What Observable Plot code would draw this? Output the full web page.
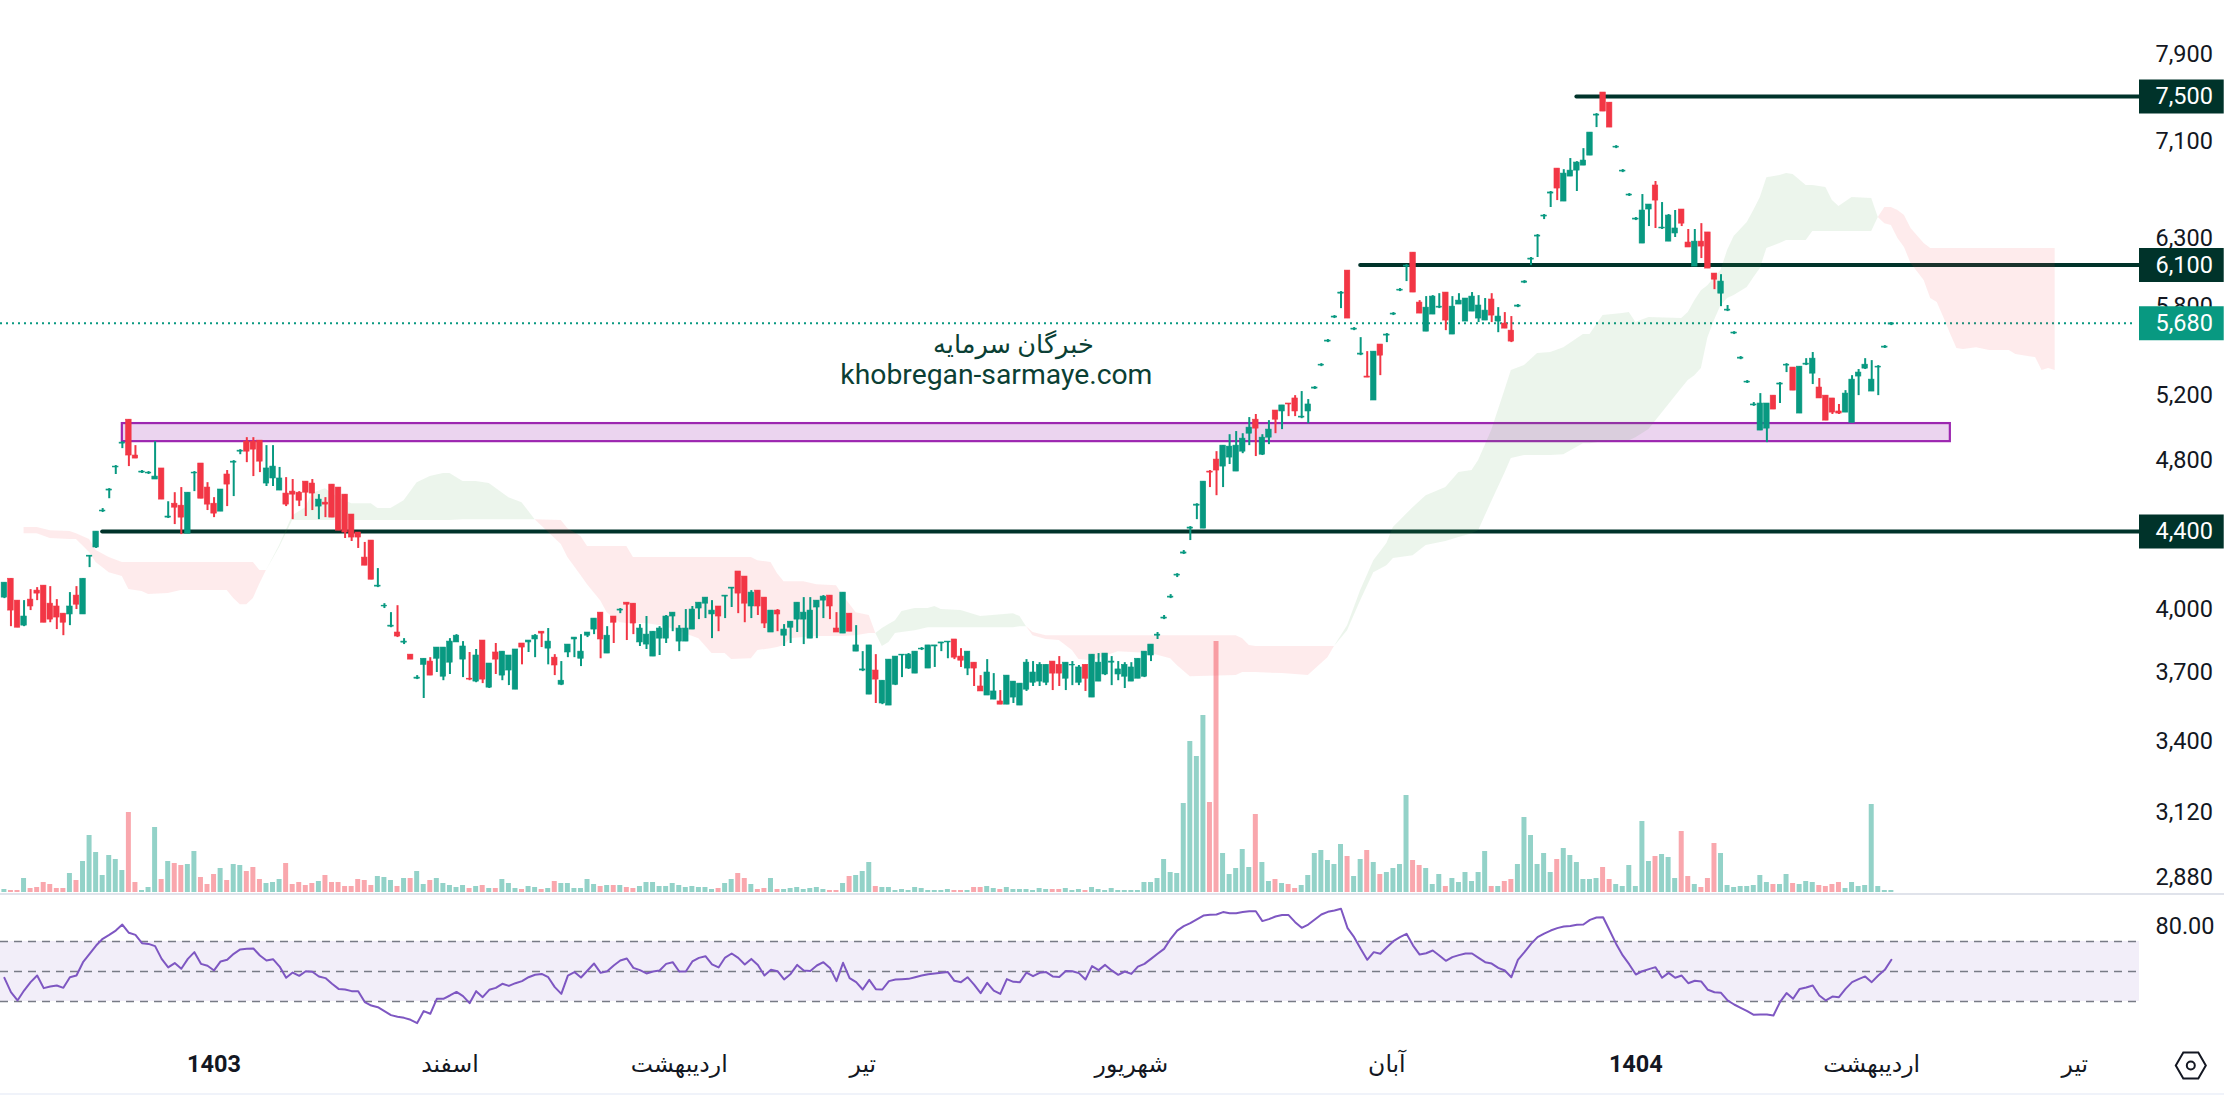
<!DOCTYPE html>
<html lang="fa">
<head>
<meta charset="utf-8">
<title>Chart</title>
<script src="https://cdn.jsdelivr.net/npm/d3@7"></script>
<script src="https://cdn.jsdelivr.net/npm/@observablehq/plot@0.6"></script>
<style>
html,body{margin:0;padding:0;background:#fff}
#root{position:relative;width:2224px;height:1096px;overflow:hidden;background:#fff}
#root>svg,#root>div{position:absolute;left:0}
#sep1{top:893px;width:2224px;height:2px;background:#e0e3eb}
#sep2{top:1093px;width:2224px;height:2px;background:#f0f3fa}
</style>
</head>
<body>
<div id="root"><div id="sep1"></div><div id="sep2"></div></div>
<script>
const opens=[4058,4153,4043,3921,4048,4093,4118,4028,4014,3979,
3975,4068,3975,4267,4315,4510,4627,4760,4901,5047,
4830,4730,4725,4690,4754,4476,4553,4542,4389,4725,
4783,4644,4553,4509,4719,4788,4853,4913,4913,4919,
4667,4696,4627,4610,4621,4615,4678,4667,4537,4559,
4661,4644,4604,4493,4395,4262,4352,4113,4014,3916,
3888,3840,3784,3674,3737,3752,3765,3683,3747,3841,
3761,3674,3661,3850,3634,3794,3688,3711,3625,3836,
3841,3855,3892,3812,3770,3647,3794,3855,3765,3873,
3902,3984,3789,3965,3994,4033,4028,3841,3831,3775,
3859,3859,3965,3845,3845,3902,4004,4028,3975,4014,
4063,4103,4190,4164,4014,4093,4058,3888,3994,3873,
3911,3950,3950,3859,4009,4043,4068,3907,3883,3979,
3798,3711,3603,3711,3564,3555,3647,3780,3720,3697,
3808,3720,3822,3836,3841,3855,3775,3720,3747,3639,
3599,3581,3573,3559,3590,3555,3625,3656,3661,3656,
3752,3737,3674,3734,3656,3737,3590,3661,3693,3747,
3693,3683,3661,3674,3683,3780,3873,3955,4058,4169,
4283,4416,4542,4416,4736,4806,4765,4818,4736,4853,
4961,5047,4835,4937,5104,5098,5148,5180,5060,5098,
5243,5393,5554,5720,5890,6059,5636,5466,5321,5167,
5534,5595,5741,5912,6089,6194,5826,5622,5741,5790,
5898,5602,5812,5692,5762,5713,5699,5848,5692,5678,
5629,5797,5970,6141,6317,6474,6659,6866,6594,6799,
6849,6891,6976,7327,7537,7444,7045,6841,6643,6450,
6263,6530,6725,6380,6278,6341,6530,6271,6089,6278,
6349,6037,5890,5769,5609,5439,5282,5136,4980,4992,
5198,5269,5393,5380,5085,5399,5340,5250,5198,5180,
5098,5091,5028,5321,5373,5224,5380,5513,5671];
const highs=[4133,4153,4043,4043,4098,4108,4118,4113,4048,3979,
4083,4113,4153,4272,4400,4526,4638,4771,4913,5047,
4889,4742,4736,4913,4754,4564,4615,4644,4615,4736,
4783,4672,4587,4633,4742,4800,4865,4937,4937,4919,
4889,4889,4760,4701,4690,4621,4678,4690,4604,4587,
4661,4644,4604,4493,4395,4342,4352,4205,4028,3984,
4018,3859,3784,3688,3765,3770,3817,3817,3859,3878,
3845,3794,3808,3850,3743,3836,3798,3780,3808,3836,
3850,3878,3892,3907,3784,3752,3831,3864,3878,3888,
3955,3984,3916,3965,4004,4033,4028,3926,3965,3892,
3916,3970,3984,3921,3999,4014,4033,4058,4043,4014,
4068,4108,4190,4164,4093,4093,4058,3994,3999,3926,
3940,4033,4058,4058,4043,4068,4068,3984,4083,3979,
3921,3798,3827,3784,3665,3761,3775,3784,3789,3798,
3817,3827,3827,3841,3845,3855,3812,3798,3747,3688,
3761,3697,3621,3688,3661,3652,3761,3752,3747,3737,
3752,3775,3747,3752,3734,3737,3784,3789,3789,3775,
3752,3747,3747,3765,3798,3831,3888,3970,4073,4179,
4299,4427,4553,4678,4742,4853,4889,4955,4974,4961,
5060,5079,4955,5041,5104,5136,5148,5198,5224,5173,
5256,5406,5568,5734,5905,6059,5650,5581,5486,5486,
5534,5609,5755,5927,6104,6194,5840,5869,5876,5890,
5898,5869,5890,5855,5898,5876,5855,5890,5790,5755,
5727,5812,5985,6157,6333,6490,6676,6866,6857,6951,
6925,7036,7176,7345,7537,7444,7062,6858,6659,6466,
6651,6570,6758,6586,6490,6522,6530,6372,6372,6418,
6349,6037,6029,5805,5622,5453,5295,5154,5211,5148,
5198,5282,5406,5380,5386,5439,5480,5308,5198,5180,
5142,5230,5327,5367,5439,5426,5393,5527,5685];
const lows=[4053,3916,3911,3916,3994,4043,3935,3935,3902,3873,
3921,3999,3975,4210,4310,4504,4581,4719,4871,4765,
4812,4725,4719,4690,4576,4471,4438,4384,4389,4621,
4581,4515,4476,4509,4537,4593,4835,4788,4707,4730,
4650,4650,4627,4537,4465,4537,4482,4515,4465,4476,
4476,4405,4363,4347,4310,4220,4148,4108,4004,3911,
3864,3831,3761,3670,3586,3688,3702,3665,3693,3841,
3679,3665,3656,3652,3630,3693,3665,3643,3625,3737,
3794,3770,3817,3737,3688,3643,3770,3770,3729,3864,
3878,3765,3789,3836,3979,3850,3878,3822,3808,3775,
3780,3836,3892,3798,3845,3902,3950,3955,3859,3892,
3955,4009,3979,3935,3955,3970,3907,3888,3892,3822,
3836,3888,3831,3859,3859,3955,3950,3888,3883,3892,
3798,3706,3603,3564,3559,3555,3643,3679,3716,3697,
3803,3720,3725,3798,3765,3761,3725,3688,3639,3617,
3599,3581,3559,3559,3564,3555,3617,3639,3639,3643,
3621,3639,3621,3643,3643,3617,3590,3661,3688,3643,
3665,3630,3661,3674,3679,3752,3855,3950,4053,4159,
4278,4352,4465,4416,4644,4598,4644,4777,4736,4841,
4889,4824,4830,4895,4961,4986,5066,5066,5053,5022,
5237,5386,5547,5713,5783,5713,5629,5459,5314,5167,
5327,5547,5734,5905,5978,5898,5748,5622,5741,5783,
5629,5602,5812,5692,5762,5685,5699,5685,5615,5643,
5547,5790,5963,6096,6157,6450,6546,6602,6594,6799,
6676,6891,6976,7220,7363,7220,7036,6832,6635,6442,
6263,6395,6380,6372,6278,6310,6395,6233,6089,6149,
6074,5919,5797,5762,5602,5432,5276,5130,4980,4907,
5110,5148,5347,5230,5085,5393,5269,5180,5041,5079,
5079,5091,5028,5198,5367,5224,5198,5507,5664];
const closes=[4133,3994,3911,3965,4014,4078,3935,3950,3960,3935,
4014,4023,4153,4272,4400,4515,4633,4765,4907,4830,
4812,4736,4730,4707,4576,4482,4531,4476,4615,4730,
4581,4548,4498,4633,4661,4794,4859,4853,4865,4794,
4754,4765,4696,4548,4604,4570,4615,4610,4576,4548,
4476,4405,4395,4368,4368,4220,4148,4118,4018,3921,
3869,3845,3761,3679,3765,3688,3817,3817,3845,3873,
3822,3670,3780,3670,3743,3761,3798,3780,3808,3817,
3850,3873,3883,3845,3734,3665,3831,3864,3798,3888,
3955,3855,3873,3935,3999,4023,3931,3907,3878,3892,
3907,3965,3984,3907,3907,3999,4033,4058,3994,3965,
4068,4108,4078,4028,4083,4014,3931,3994,3975,3902,
3940,4033,3984,3994,4043,4063,4014,3888,4083,3892,
3827,3716,3827,3670,3665,3761,3775,3784,3784,3798,
3812,3827,3827,3841,3845,3770,3756,3798,3720,3617,
3702,3617,3559,3688,3661,3652,3747,3702,3737,3737,
3697,3697,3747,3737,3725,3674,3784,3747,3789,3752,
3716,3737,3725,3765,3798,3831,3878,3960,4063,4174,
4289,4422,4548,4678,4730,4742,4889,4883,4889,4931,
4998,4992,4937,4986,5047,5136,5142,5098,5066,5142,
5250,5399,5561,5727,5898,5713,5643,5473,5314,5486,
5459,5602,5748,5919,6096,5898,5748,5790,5869,5797,
5699,5797,5840,5855,5869,5805,5769,5734,5727,5643,
5554,5805,5978,6149,6325,6482,6668,6700,6824,6849,
6917,6934,7176,7336,7363,7220,7053,6849,6651,6458,
6522,6570,6602,6387,6482,6380,6418,6233,6278,6240,
6074,5992,5978,5776,5616,5446,5288,5142,5148,5148,
5110,5276,5399,5230,5386,5406,5439,5180,5041,5091,
5085,5211,5301,5347,5399,5301,5386,5520,5680];
const volumes=[3,2,2,14,4,5,10,8,4,4,
19,12,31,57,40,17,37,33,22,80,
10,2,5,65,13,31,29,27,28,41,
15,8,18,24,12,28,27,21,25,13,
9,10,13,29,8,10,7,9,11,17,
10,10,6,6,13,12,7,16,15,12,
6,14,14,21,8,12,14,9,7,5,
7,4,6,7,4,4,13,9,4,3,
6,5,3,4,11,9,9,4,4,13,
8,6,7,7,7,5,4,6,10,10,
6,6,9,7,5,6,5,5,3,4,
9,13,19,14,8,3,4,14,3,3,
4,5,3,4,5,3,2,2,9,16,
17,21,30,6,5,5,2,3,2,5,
4,2,2,2,3,2,2,2,5,5,
6,4,3,5,3,3,3,2,4,3,
3,3,4,2,3,2,5,3,2,4,
2,2,2,2,10,10,14,33,20,19,
89,151,136,177,90,251,39,18,24,43,
25,78,30,11,13,9,8,4,7,17,
39,42,32,28,48,36,16,33,42,30,
18,20,24,28,97,32,27,24,8,18,
6,14,10,20,11,20,41,6,6,11,
13,28,75,57,28,39,20,33,44,37,
30,13,13,14,25,13,8,6,27,6,
71,31,36,38,35,14,61,16,8,5,
14,49,39,7,5,6,6,7,17,10,
8,8,18,9,8,11,10,7,6,8,
10,4,10,6,7,88,6,2,2];
const rsi=[45.8,36.2,30.7,37.3,42.9,47.3,38.9,40,40.7,39.1,
46.2,47.3,56.2,61.8,67.3,71.8,74.4,77.3,81.3,75.8,
74.4,68.9,68.4,66.9,58.4,52.7,55.6,51.8,58.4,62.9,
55.1,53.8,50.7,56.7,57.8,61.8,64.7,65.1,65.3,60.7,
57.3,58.2,53.3,45.8,49.3,47.1,50.2,49.8,46.7,45.6,
41.8,38.4,38,36.9,36.9,29.6,27.3,26.2,23.6,20.9,
19.8,19.1,17.8,15.6,23.6,21.8,31.8,31.8,34,36.4,
33.6,28.9,36.9,32.9,37.8,39.1,41.8,40.4,42.2,43.6,
46.2,47.8,48.4,46.2,39.6,35.1,47.3,49.6,46,50.7,
55.3,49.1,50.2,54,57.3,58.7,52.4,50.9,48.7,50,
50.7,55.1,56.2,50,50,56.7,59.1,60.2,54.7,52.7,
59.3,62,59.1,54.7,58.4,54.4,47.3,51.1,50.2,44.7,
48.4,54.4,50.7,50.4,54,56.2,52.4,43.6,55.8,45.6,
42.9,38,44.4,38.2,38,43.6,44.7,44.9,45.1,46.2,
47.3,48.2,48.7,49.1,49.6,43.8,42.9,46.2,41.3,35.6,
42.4,37.3,35.1,44.9,43.1,42.9,49.3,46.9,49.1,49.6,
46.7,46.4,50.4,50.2,48.9,44.7,53.6,50.9,
54.4,50.7,47.8,50,48.4,53.3,55.1,58.4,61.8,65.1,
71.8,77.3,80.2,82.2,84.7,87.3,87.8,88,89.6,88.9,
88.9,89.6,90.2,90.2,83.6,84.9,86.7,87.6,87.6,82.9,
79.1,81.3,84.7,88,89.8,90.7,91.8,78.9,72.9,65.1,
57.8,62.9,61.8,66.2,70.2,72.9,75.1,67.3,61.3,62.2,
64,60.7,57.1,59.6,60.9,62,62,59.1,56.2,55.3,
52.4,50.7,46.2,57.8,62.9,68.4,72.9,75.3,77.3,78.9,
80,80.4,81.1,81.3,84.4,86,86.2,77.3,68.4,60.7,
54.7,48,50.2,51.6,52.9,45.8,49.1,45.8,47.3,42.2,
43.8,43.3,37.8,36.2,35.8,30.7,28,25.8,23.6,21.1,
21.3,21.3,20.7,29.6,35.6,31.8,38.4,39.3,40.7,34,
30.7,33.3,32.9,38.4,42.9,44.9,46.7,42.9,47.3,51.1,57.8];
const spanX=[3,5,7,10,11,13,14,16,18,19,21,22,25,27,34,35,36,37,38,39,40,
42,44,46,47,49,51,53,56,57,59,61,63,65,67,68,70,72,74,77,79,81,
85,86,88,89,91,92,94,95,96,98,101,106,108,110,111,114,115,117,118,119,120,122,124,127,128,130,132,133,
134,135,136,137,139,141,142,143,146,149,154,155,156,
157,159,161,163,164,166,170,175,178,179,181,188,189,190,191,195,199,202,203,
205,207,209,211,212,215,217,220,222,224,225,227,229,230,232,234,236,238,241,242,244,247,248,249,251,256,257,258,259,260,261,262,263,264,266,267,268,269,271,272,273,275,276,278,279,280,282,285,286,
287,288,289,290,291,293,294,295,296,297,298,299,301,303,306,307,310,311,312,313];
const spanA=[4389,4389,4363,4357,4357,4289,4236,4184,4164,4098,4088,4073,4078,4093,4093,4053,4023,4023,4053,4128,4195,
4326,4487,4531,4610,4638,4587,4553,4553,4526,4526,4570,4672,4707,4725,4725,4678,4678,4667,4587,4559,4465,
4331,4262,4169,4123,4043,3984,3935,3931,3931,3931,3916,3859,3789,3789,3761,3765,3803,3812,3817,3827,3859,3864,3869,3869,3869,3873,3883,3883,
3907,3926,3945,3989,4004,4004,4014,3999,3994,3965,3979,3965,3916,
3873,3855,3850,3803,3761,3756,3798,3789,3765,3734,3683,3688,3702,3702,3702,3697,3688,3770,3822,
3921,4093,4246,4336,4422,4531,4598,4644,4730,4742,4800,4980,5230,5360,5393,5473,5480,5513,5602,5602,5734,5748,5755,5685,5720,5713,5755,5840,5912,5948,6007,6059,6210,6318,6426,6522,6626,6790,6808,6824,6816,6725,6725,6708,6602,6554,6626,6618,6466,
6418,6403,6302,6233,6112,5985,5855,5826,5720,5609,5507,5500,5513,5493,5493,5466,5446,5360,5373,5360];
const spanB=[4422,4422,4405,4400,4389,4357,4299,4262,4236,4236,4236,4236,4236,4236,4236,4236,4236,4236,4236,4195,4195,
4315,4460,4460,4460,4460,4460,4460,4460,4460,4460,4460,4460,4460,4460,4460,4465,4465,4465,4465,4465,4465,
4460,4416,4373,4320,4320,4320,4320,4320,4262,4262,4262,4262,4262,4262,4262,4262,4246,4236,4179,4138,4138,4138,4123,4118,4068,3984,3970,3883,
3822,3841,3883,3888,3897,3911,3911,3911,3911,3911,3911,3916,3916,
3888,3873,3873,3873,3873,3873,3873,3873,3873,3873,3873,3873,3859,3827,3822,3822,3822,3822,3822,
3897,4043,4184,4220,4257,4272,4326,4347,4368,4389,4405,4564,4725,4812,4830,4830,4830,4835,4901,4901,4913,4919,4919,4937,4986,5243,5295,5327,5373,5581,5699,5805,5855,5877,5934,6007,6074,6226,6263,6286,6286,6286,6356,6356,6356,6356,6356,6356,6466,
6546,6546,6522,6482,6380,6263,6225,6225,6225,6225,6225,6225,6225,6225,6225,6225,6225,6225,6225,6225];
const priceTicks=[7900,7100,6300,5800,5200,4800,4000,3700,3400,3120,2880];
const levelPrices=[7500,6100,4400];
const levelStarts=[240,207,15];
const lastPrice=[5680];
const boxLow=4913, boxHigh=5023, boxStart=18, boxEnd=297;
const rsiBands=[30,50,70];
const rsiTicks=[80];
const monthTicks=[68,103,131,172,211,285,316];
const monthNames=["اسفند","اردیبهشت","تیر","شهریور","آبان","اردیبهشت","تیر"];
const yearTicks=[32,249];
const yearNames=["1403","1404"];
const watermarkFa=["خبرگان سرمایه"];
const watermarkEn=["khobregan-sarmaye.com"];

const GREEN="#089981",RED="#f23645",DARK="#00332a",INK="#131722",PURPLE="#9c27b0",RSI="#7e57c2";
const xDomain=[-0.595,325.87], xEdge=338.8;
const FONT='Roboto, "Noto Sans", "DejaVu Sans", sans-serif';

const candles=opens.map((o,i)=>({i,open:o,high:highs[i],low:lows[i],close:closes[i],vol:volumes[i],up:closes[i]>=o}));
const up=candles.filter(d=>d.up), down=candles.filter(d=>!d.up);

let seg=0; const cloud=[];
spanX.forEach((x,k)=>{
  const a=spanA[k],b=spanB[k];
  cloud.push({x,a,b,seg});
  if(a===b){seg++;cloud.push({x,a,b,seg});}
});
const segGreen=new Map();
for(const r of cloud) if(r.a!==r.b) segGreen.set(r.seg,r.a>r.b);
const greenCloud=cloud.filter(r=>segGreen.get(r.seg)===true);
const redCloud=cloud.filter(r=>segGreen.get(r.seg)===false);
const levels=levelPrices.map((p,k)=>({p,from:levelStarts[k]}));

const base={width:2224,marginTop:0,marginLeft:0,marginRight:85,style:{background:"transparent",fontFamily:FONT,overflow:"visible"}};
const candleMarks=(data,c)=>[
  Plot.ruleX(data,{x:"i",y1:"low",y2:"high",stroke:c,strokeWidth:2}),
  Plot.rect(data,{x1:d=>d.i-0.42,x2:d=>d.i+0.42,y1:"open",y2:"close",fill:c,stroke:c,strokeWidth:0.6})
];

const volumePlot=Plot.plot({...base,height:892,marginBottom:0,
  x:{domain:xDomain,axis:null},y:{domain:[0,892],axis:null},
  marks:[
    Plot.rect(up,{x1:d=>d.i-0.38,x2:d=>d.i+0.38,y1:0,y2:"vol",fill:GREEN,fillOpacity:0.44}),
    Plot.rect(down,{x1:d=>d.i-0.38,x2:d=>d.i+0.38,y1:0,y2:"vol",fill:RED,fillOpacity:0.44})
  ]});

const pricePlot=Plot.plot({...base,height:892,marginBottom:0,
  x:{domain:xDomain,axis:null},y:{type:"log",domain:[2827,8437],axis:null},
  marks:[
    Plot.axisY(priceTicks,{anchor:"right",tickSize:0,tickPadding:16,tickFormat:d3.format(","),fontSize:23.5,fill:INK,label:null}),
    Plot.ruleY(levels,{y:"p",x1:"from",x2:xDomain[1],stroke:DARK,strokeWidth:4,strokeLinecap:"round"}),
    Plot.ruleY(lastPrice,{x1:xDomain[0],x2:xDomain[1]-0.8,stroke:GREEN,strokeWidth:2,strokeDasharray:"2 4"}),
    Plot.rect([0],{x1:boxStart,x2:boxEnd,y1:boxLow,y2:boxHigh,fill:PURPLE,fillOpacity:0.2,stroke:PURPLE,strokeWidth:2.2}),
    Plot.areaY(redCloud,{x:"x",y1:"a",y2:"b",z:"seg",fill:RED,fillOpacity:0.1}),
    Plot.areaY(greenCloud,{x:"x",y1:"a",y2:"b",z:"seg",fill:"#43a047",fillOpacity:0.1}),
    ...candleMarks(up,GREEN),
    ...candleMarks(down,RED),
    Plot.text(watermarkFa,{x:154,y:5530,text:d=>d,fontSize:25.6,fill:"#0b3f34"}),
    Plot.text(watermarkEn,{x:151.4,y:5334,text:d=>d,fontSize:28.3,fill:"#0b3f34"}),
    Plot.ruleY(levelPrices,{x1:xDomain[1],x2:xEdge,stroke:DARK,strokeWidth:34}),
    Plot.ruleY(lastPrice,{x1:xDomain[1],x2:xEdge,stroke:GREEN,strokeWidth:34}),
    Plot.text([...levelPrices,...lastPrice],{x:xDomain[1],y:d=>d,dx:16,textAnchor:"start",text:d3.format(","),fontSize:23.5,fill:"#fff"})
  ]});

const rsiRows=rsi.map((v,i)=>({i,v}));
const monthFmt=d=>monthNames[monthTicks.indexOf(d)];
const yearFmt=d=>yearNames[yearTicks.indexOf(d)];
const rsiPlot=Plot.plot({...base,height:198,marginBottom:55,
  x:{domain:xDomain,axis:null},y:{domain:[5.33,100.67],axis:null},
  marks:[
    Plot.rect([0],{x1:xDomain[0],x2:xDomain[1],y1:rsiBands[0],y2:rsiBands[2],fill:RSI,fillOpacity:0.1}),
    Plot.ruleY(rsiBands,{x1:xDomain[0],x2:xDomain[1],stroke:"#787b86",strokeWidth:1.5,strokeDasharray:"8 6"}),
    Plot.line(rsiRows,{x:"i",y:"v",stroke:RSI,strokeWidth:2,curve:"linear"}),
    Plot.axisY(rsiTicks,{anchor:"right",tickSize:0,tickPadding:16,tickFormat:d3.format(".2f"),fontSize:23.5,fill:INK,label:null}),
    Plot.axisX(monthTicks,{anchor:"bottom",tickSize:0,tickPadding:17,tickFormat:monthFmt,fontSize:23.5,fill:INK,label:null}),
    Plot.axisX(yearTicks,{anchor:"bottom",tickSize:0,tickPadding:17,tickFormat:yearFmt,fontSize:23.5,fontWeight:700,fill:INK,label:null}),
    Plot.dot([0],{x:333.7,y:-12.67,symbol:"hexagon",rotate:90,r:13,stroke:INK,strokeWidth:2,fill:"none"}),
    Plot.dot([0],{x:333.7,y:-12.67,r:4,stroke:INK,strokeWidth:2,fill:"none"})
  ]});

const root=document.getElementById("root");
[volumePlot,pricePlot].forEach(s=>{s.style.top="0px";root.appendChild(s);});
rsiPlot.style.top="895px";root.appendChild(rsiPlot);
</script>
</body>
</html>
